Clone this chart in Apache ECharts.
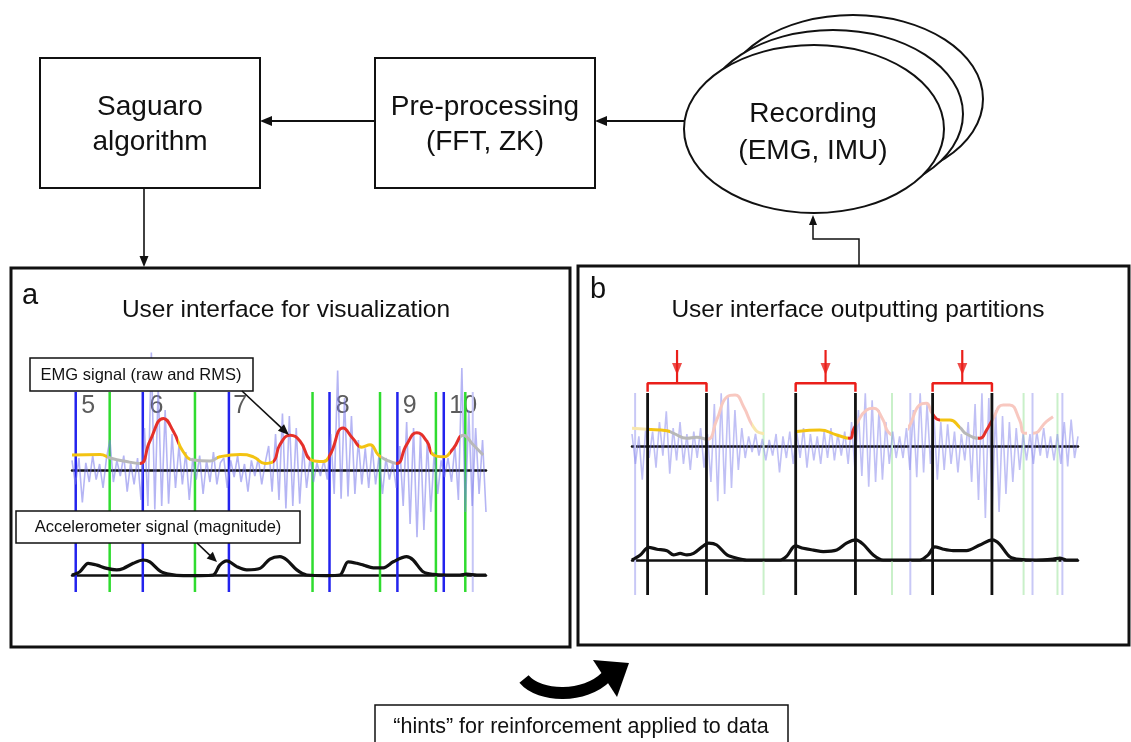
<!DOCTYPE html>
<html><head><meta charset="utf-8">
<script src="https://cdn.jsdelivr.net/npm/echarts@6/dist/echarts.min.js"></script>
<style>html,body{margin:0;padding:0;background:#fff}#c{width:1131px;height:742px}</style>
</head><body><div id="c"></div>
<script>
// ---------- Panel a data ----------
const aBlueLines = [0.9, 17.1, 37.9, 62.2, 78.6, 89.8];
const aGreenLines = [9.1, 29.7, 58.1, 74.4, 87.9, 95.0];
const aFaintBlueLines = [96.8];
const aNumberLabels = ['5', '6', '7', '8', '9', '10'];
const aNumberPos = [3.9, 20.4, 40.6, 65.4, 81.6, 94.5];
const aRmsT = [0, 6.8, 9.2, 13.2, 16.4, 18.8, 22.1, 24.5, 26.9, 29.3, 33.3, 35.7, 40.6, 43.8, 46.6, 48.6, 50.2, 52.7, 55.1, 57.9, 60.7, 62.3, 65.5, 67.9, 70.0, 72.0, 74.0, 76.0, 78.4, 80.8, 83.3, 85.7, 87.3, 89.7, 92.1, 94.5, 96.9, 99.3];
const aRmsV = [0.125, 0.13, 0.10, 0.07, 0.055, 0.24, 0.43, 0.32, 0.15, 0.083, 0.075, 0.11, 0.13, 0.11, 0.055, 0.07, 0.21, 0.29, 0.24, 0.083, 0.07, 0.125, 0.35, 0.26, 0.19, 0.21, 0.125, 0.083, 0.055, 0.21, 0.31, 0.24, 0.125, 0.11, 0.18, 0.29, 0.21, 0.125];
const aRmsSegStart = [0, 8.5, 16.4, 25.5, 28.5, 35, 48.6, 57.5, 61.8, 69.3, 74.6, 78.2, 86.6, 91.2, 93.8];
const aRmsSegColor = ['Y', 'G', 'R', 'Y', 'G', 'Y', 'R', 'Y', 'R', 'Y', 'G', 'R', 'Y', 'R', 'G'];
const aRaw = [
  0.08, -0.12, 0.1, -0.27, 0.06, -0.1, 0.12, -0.08, 0.05, -0.15, 0.1,
  0.25, -0.1, 0.08, -0.05, 0.12, -0.18, 0.06, -0.12, 0.1,
  -0.25, 0.35, -0.3, 0.98, -0.33, 0.7, -0.3, 0.5, -0.28, 0.3, -0.15,
  0.2, -0.12, 0.15, -0.25, 0.1, -0.08, 0.12, -0.2, 0.08, -0.1, 0.15, -0.12, 0.06,
  0.1, -0.15, 0.08, -0.06, 0.12, -0.1, 0.05, -0.18, 0.08, -0.05, 0.1, -0.12, 0.06,
  0.2, -0.18, 0.3, -0.25, 0.47, -0.32, 0.45, -0.3, 0.35, -0.28, 0.2, -0.15, 0.1,
  -0.1, 0.06, -0.05, 0.08, -0.08,
  0.3, -0.2, 0.83, -0.24, 0.6, -0.22, 0.45, -0.2, 0.25, -0.12,
  0.18, -0.15, 0.2, -0.12, 0.12, -0.2, 0.1, -0.08, 0.06,
  -0.15, 0.2, -0.3, 0.4, -0.45, 0.35, -0.56, 0.3, -0.5, 0.25, -0.35, 0.15, -0.2,
  0.08, -0.06, 0.1, -0.1,
  0.2, -0.25, 0.85, -0.35, 0.5, -0.3, 0.35, -0.2, 0.25, -0.35
];
const aAccT = [0, 1.9, 3.9, 6.0, 8.4, 10.8, 12.4, 14.8, 17.2, 18.8, 21.3, 23.7, 26.9, 30.9, 34.1, 35.7, 37.4, 39.8, 42.2, 45.4, 47.8, 50.2, 51.9, 54.3, 56.7, 61.5, 64.7, 66.7, 68.8, 70.4, 72.8, 75.2, 77.6, 80.8, 82.4, 84.8, 87.3, 90.5, 93.7, 95.3, 97.8, 100];
const aAccV = [0, 0.11, 0.39, 0.33, 0.22, 0.17, 0.22, 0.39, 0.5, 0.44, 0.13, 0.02, -0.02, -0.02, 0, 0.33, 0.47, 0.28, 0.17, 0.22, 0.53, 0.61, 0.5, 0.17, 0, -0.02, 0, 0.44, 0.39, 0.33, 0.24, 0.24, 0.44, 0.61, 0.5, 0.11, 0.02, 0, 0, 0.03, 0, 0];

// ---------- Panel b data ----------
const bBlackLines = [3.5, 16.7, 36.7, 50.1, 67.4, 80.7];
const bFaintBlueLines = [0.7, 62.4, 89.8, 96.5];
const bFaintGreenLines = [29.5, 58.3, 87.8, 95.4];
const bPartitions = [[3.5, 16.7], [36.7, 50.1], [67.4, 80.7]];
const bRmsT = [0, 3.35, 7.83, 9.32, 12.3, 14.5, 16.9, 19.0, 21.3, 23.1, 25.0, 27.2, 29.1, 32.8, 36.6, 42.1, 45.9, 48.9, 49.6, 50.2, 52.6, 54.1, 56.3, 57.4, 59.7, 61.9, 64.5, 66.0, 67.3, 69.0, 71.3, 73.5, 75.0, 78.0, 79.5, 80.8, 83.2, 84.7, 86.9, 88.0, 89.9, 92.9, 94.4];
const bRmsV = [0.147, 0.139, 0.128, 0.106, 0.064, 0.072, 0.056, 0.217, 0.41, 0.425, 0.33, 0.16, 0.106, 0.092, 0.119, 0.133, 0.092, 0.064, 0.133, 0.175, 0.3, 0.314, 0.217, 0.119, 0.078, 0.147, 0.342, 0.356, 0.272, 0.217, 0.217, 0.156, 0.1, 0.064, 0.133, 0.217, 0.342, 0.342, 0.217, 0.106, 0.106, 0.203, 0.244];
const bRmsSegStart = [0, 3.4, 8.5, 16.9, 27, 29.5, 36.6, 48.5, 50.2, 58, 61.9, 67.3, 69, 73.5, 77.5, 80.8, 88.5, 89.9];
const bRmsSegColor = ['FY', 'Y', 'G', 'FP', 'FY', 'N', 'Y', 'R', 'FP', 'N', 'FP', 'R', 'Y', 'G', 'R', 'FP', 'N', 'FP'];
const bRaw = [
  0.1, -0.15, 0.08, -0.28,
  0.15, -0.1, 0.12, -0.18, 0.2, -0.08, 0.29, -0.23, 0.15, -0.12, 0.2, -0.15, 0.1, -0.2, 0.12, -0.1, 0.15, -0.18, 0.1,
  -0.3, 0.35, -0.46, 0.44, -0.4, 0.42, -0.35, 0.3, -0.2, 0.15,
  -0.1, 0.08, -0.05, 0.1, -0.08, 0.06, -0.12, 0.05, -0.08, 0.1, -0.22, 0.08, -0.1, 0.12,
  -0.15, 0.12, -0.1, 0.15, -0.18, 0.1, -0.12, 0.08, -0.15, 0.12, -0.1, 0.15, -0.12, 0.1, -0.08, 0.12, -0.15, 0.2, -0.2,
  0.3, -0.25, 0.44, -0.34, 0.38, -0.3, 0.3, -0.28, 0.2, -0.15, 0.12, -0.1, 0.08,
  -0.1, 0.15, -0.2, 0.3, -0.26, 0.44, -0.22, 0.35, -0.15,
  0.25, -0.28, 0.2, -0.2, 0.18, -0.15, 0.12, -0.22, 0.1, -0.12,
  0.2, -0.3, 0.35, -0.45, 0.44, -0.6, 0.4, -0.5, 0.3, -0.55, 0.25, -0.4, 0.2, -0.3, 0.15, -0.2, 0.1,
  -0.12, 0.1, -0.15, 0.12, -0.08, 0.15, -0.1, 0.08, -0.12, 0.1, -0.15, 0.2, -0.17, 0.22, -0.1, 0.08
];
const bAccT = [0, 1.86, 3.72, 5.59, 7.83, 9.32, 10.8, 12.3, 13.8, 15.7, 17.2, 19.0, 21.3, 23.5, 25.7, 33.2, 34.7, 36.6, 38.4, 40.7, 42.9, 45.9, 48.1, 50.2, 51.8, 54.1, 56.3, 64.5, 66.4, 67.9, 69.8, 72.0, 75.0, 78.0, 80.8, 82.4, 84.7, 86.9, 90.6, 94.4, 95.9, 97.4, 100];
const bAccV = [0, 0.17, 0.42, 0.36, 0.31, 0.17, 0.22, 0.17, 0.22, 0.44, 0.56, 0.5, 0.17, 0.06, 0, 0, 0.13, 0.47, 0.39, 0.33, 0.28, 0.33, 0.56, 0.67, 0.53, 0.17, 0, 0, 0.17, 0.44, 0.36, 0.31, 0.31, 0.5, 0.67, 0.53, 0.11, 0.02, 0, 0.03, 0.06, 0, 0];

// ---------- texts ----------
const boxTexts = { saguaro: ['Saguaro', 'algorithm'], pre: ['Pre-processing', '(FFT, ZK)'], rec: ['Recording', '(EMG, IMU)'] };
const panelLetters = ['a', 'b'];
const panelTitles = ['User interface for visualization', 'User interface outputting partitions'];
const emgLabel = 'EMG signal (raw and RMS)';
const accLabel = 'Accelerometer signal (magnitude)';
const hintsLabel = '\u201chints\u201d for reinforcement applied to data';

// ---------- styling ----------
const COL = { Y: '#f3c312', G: '#b8b8b8', R: '#e5302a', FY: '#f8e7ad', FP: '#f8c8c0', N: 'rgba(255,255,255,0)' };
const FONT = '"Liberation Sans", Arial, sans-serif';

const chart = echarts.init(document.getElementById('c'), null, { renderer: 'canvas', width: 1131, height: 742 });

const grids = [
  { left: 72, top: 350, width: 414, height: 240 },   // 0 a EMG
  { left: 72, top: 545, width: 414, height: 60 },    // 1 a accel
  { left: 72, top: 392, width: 414, height: 200 },   // 2 a overlay
  { left: 632, top: 326, width: 446, height: 240 },  // 3 b EMG
  { left: 632, top: 530, width: 446, height: 60 },   // 4 b accel
  { left: 632, top: 345, width: 446, height: 250 }   // 5 b overlay
];
const baseGrids = [0, 1, 3, 4];
const xAxes = grids.map((g, i) => ({
  gridIndex: i, type: 'value', min: 0, max: 100,
  show: baseGrids.includes(i),
  axisLine: { show: true, onZero: true, lineStyle: { color: '#111', width: 2.5 } },
  axisTick: { show: false }, axisLabel: { show: false }, splitLine: { show: false }
}));
const yRanges = [[-1, 1], [-1, 1], [0, 1], [-1, 1], [-1, 1], [0, 100]];
const yAxes = grids.map((g, i) => ({
  gridIndex: i, type: 'value', min: yRanges[i][0], max: yRanges[i][1], show: false,
  splitLine: { show: false }
}));

const series = [];
function addLine(grid, data, color, width, extra) {
  const ls = { width: width };
  if (color) ls.color = color;
  series.push(Object.assign({
    type: 'line', xAxisIndex: grid, yAxisIndex: grid, data: data,
    symbol: 'none', silent: true, animation: false,
    lineStyle: ls
  }, extra || {}));
  return series.length - 1;
}
function vlines(grid, list, y0, y1, color, width) {
  list.forEach(t => addLine(grid, [[t, y0], [t, y1]], color, width));
}
const zip = (T, V) => T.map((t, i) => [t, V[i]]);
const rawData = arr => arr.map((v, i) => [i * 100 / (arr.length - 1), v]);

// panel a
vlines(2, aFaintBlueLines, 0, 1, '#c5c5f6', 2);
vlines(2, aGreenLines, 0, 1, '#2fdc2f', 2.5);
vlines(2, aBlueLines, 0, 1, '#2323ee', 2.5);
addLine(0, rawData(aRaw), 'rgba(120,120,235,0.55)', 1.6);
const aRmsIdx = addLine(0, zip(aRmsT, aRmsV), null, 3, { smooth: 0.5 });
addLine(1, zip(aAccT, aAccV), '#111', 3.2, { smooth: 0.3 });
series.push({
  type: 'scatter', xAxisIndex: 2, yAxisIndex: 2, silent: true, animation: false,
  symbolSize: 1, itemStyle: { color: 'rgba(0,0,0,0)' },
  data: aNumberPos.map((t, i) => ({ value: [t, 0.927], name: aNumberLabels[i] })),
  label: { show: true, position: 'inside', formatter: p => p.name, fontSize: 25, color: '#333', fontFamily: FONT }
});

// panel b
vlines(5, bFaintGreenLines, 0, 80.8, '#c9f0c9', 2);
vlines(5, bFaintBlueLines, 0, 80.8, '#c8c8f6', 2);
addLine(3, rawData(bRaw), 'rgba(130,130,235,0.5)', 1.6);
const bRmsIdx = addLine(3, zip(bRmsT, bRmsV), null, 3, { smooth: 0.5 });
vlines(5, bBlackLines, 0, 80.8, '#111', 2.8);
addLine(4, zip(bAccT, bAccV), '#111', 3.2, { smooth: 0.3 });
bPartitions.forEach(p => {
  addLine(5, [[p[0], 81.3], [p[0], 84.7], [p[1], 84.7], [p[1], 81.3]], '#ea1f1a', 2.5);
  const c = (p[0] + p[1]) / 2;
  addLine(5, [[c, 98], [c, 84.7]], '#ea1f1a', 2.2);
});
series.push({
  type: 'scatter', xAxisIndex: 5, yAxisIndex: 5, silent: true, animation: false,
  symbol: 'triangle', symbolRotate: 180, symbolSize: [10, 12],
  itemStyle: { color: '#ea1f1a' },
  data: bPartitions.map(p => [(p[0] + p[1]) / 2, 90.4])
});

function pieces(starts, cols) {
  return starts.map((s, i) => ({ gte: s, lt: i + 1 < starts.length ? starts[i + 1] : 101, color: COL[cols[i]] }));
}

// ---------- diagram graphics ----------
const G = [];
const txt = (s, x, y, size, align) => G.push({
  type: 'text', z: 100,
  style: { text: s, x: x, y: y, font: size + 'px ' + FONT, fill: '#111', textAlign: align || 'center', textVerticalAlign: 'middle', align: align || 'center', verticalAlign: 'middle' }
});
const rect = (x, y, w, h, lw, fill) => G.push({ type: 'rect', z: 100, shape: { x: x, y: y, width: w, height: h }, style: { fill: fill || 'rgba(0,0,0,0)', stroke: '#111', lineWidth: lw } });
const poly = (pts, lw) => G.push({ type: 'polyline', z: 100, shape: { points: pts }, style: { stroke: '#111', lineWidth: lw, fill: null } });
function head(tip, from, len, hw) {
  const dx = tip[0] - from[0], dy = tip[1] - from[1], d = Math.hypot(dx, dy);
  const ux = dx / d, uy = dy / d;
  const bx = tip[0] - ux * len, by = tip[1] - uy * len;
  G.push({ type: 'polygon', z: 100, shape: { points: [tip, [bx - uy * hw, by + ux * hw], [bx + uy * hw, by - ux * hw]] }, style: { fill: '#111' } });
}
function arrow(from, tip, lw, len, hw) {
  const dx = tip[0] - from[0], dy = tip[1] - from[1], d = Math.hypot(dx, dy);
  poly([from, [tip[0] - dx / d * (len - 1), tip[1] - dy / d * (len - 1)]], lw);
  head(tip, from, len, hw);
}

// top flow
rect(40, 58, 220, 130, 2, '#fff');
rect(375, 58, 220, 130, 2, '#fff');
txt(boxTexts.saguaro[0], 150, 107, 28);
txt(boxTexts.saguaro[1], 150, 142, 28);
txt(boxTexts.pre[0], 485, 107, 28);
txt(boxTexts.pre[1], 485, 142, 28);
[[853, 99], [833, 114], [814, 129]].forEach(c => G.push({ type: 'ellipse', z: 100, shape: { cx: c[0], cy: c[1], rx: 130, ry: 84 }, style: { fill: '#fff', stroke: '#111', lineWidth: 2 } }));
txt(boxTexts.rec[0], 813, 114, 28);
txt(boxTexts.rec[1], 813, 151, 28);
arrow([375, 121], [260, 121], 2.2, 12, 5);
arrow([684, 121], [595, 121], 2.2, 12, 5);
arrow([144, 188], [144, 267], 1.6, 11, 4.5);
poly([[859, 265], [859, 239], [813, 239], [813, 224]], 1.5);
head([813, 215], [813, 239], 10, 4);

// panels
rect(11, 268, 559, 379, 3);
rect(578, 266, 551, 379, 3);
txt(panelLetters[0], 22, 296, 29, 'left');
txt(panelLetters[1], 590, 290, 29, 'left');
txt(panelTitles[0], 286, 310, 24.5);
txt(panelTitles[1], 858, 310, 24.5);

// annotation boxes panel a
rect(30, 358, 223, 33, 1.5, '#fff');
txt(emgLabel, 141, 375, 16.5);
rect(16, 511, 284, 32, 1.5, '#fff');
txt(accLabel, 158, 527, 16.5);
arrow([242, 391], [289, 435], 1.6, 11, 4.5);
arrow([197, 543], [217, 562], 1.6, 10, 4.5);

// bottom curved arrow + hints box
G.push({ type: 'bezierCurve', z: 100, shape: { x1: 524, y1: 679, cpx1: 540, cpy1: 698, cpx2: 585, cpy2: 698, x2: 606, y2: 677 }, style: { stroke: '#000', lineWidth: 12, fill: null } });
G.push({ type: 'polygon', z: 100, shape: { points: [[593, 660], [629, 663], [617, 697]] }, style: { fill: '#000' } });
rect(375, 705, 413, 50, 1.5, '#fff');
txt(hintsLabel, 581, 727, 21.5);

chart.setOption({
  backgroundColor: '#fff',
  animation: false,
  grid: grids,
  xAxis: xAxes,
  yAxis: yAxes,
  visualMap: [
    { type: 'piecewise', show: false, seriesIndex: aRmsIdx, dimension: 0, pieces: pieces(aRmsSegStart, aRmsSegColor) },
    { type: 'piecewise', show: false, seriesIndex: bRmsIdx, dimension: 0, pieces: pieces(bRmsSegStart, bRmsSegColor) }
  ],
  series: series,
  graphic: { elements: G }
});
</script></body></html>
